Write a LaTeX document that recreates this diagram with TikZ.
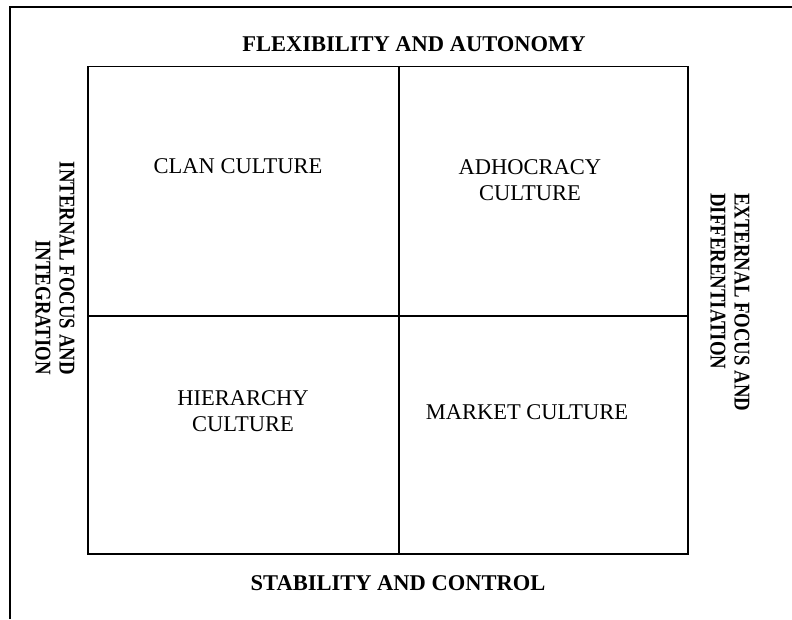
\documentclass[tikz,border=0pt]{standalone}
\usepackage{fontspec}
\setmainfont{Liberation Serif}
\newfontfamily\sidefont[FakeStretch=0.835]{Liberation Serif}

\tikzstyle{cell} = [align=center, inner sep=0pt, font=\fontsize{22.5}{26}\selectfont]
\tikzstyle{axis} = [inner sep=0pt, font=\fontsize{22.5}{24}\selectfont\bfseries]
\tikzstyle{side} = [inner sep=0pt, rotate=-90, font=\sidefont\fontsize{22.5}{24}\selectfont\bfseries]
\tikzstyle{frame} = [line width=1.3pt]

\begin{document}
\begin{tikzpicture}[x=1pt,y=-1pt]
      \useasboundingbox (0,0) rectangle (792,619);
      \coordinate (nw) at (88,66.5);
      \coordinate (se) at (688,554);
      \coordinate (n) at (399,66.5);
      \coordinate (s) at (399,554);
      \coordinate (w) at (88,316);
      \coordinate (e) at (688,316);
      \coordinate (pagebl) at (10,619);
      \coordinate (pagetl) at (10,7);
      \coordinate (pagetr) at (792,7);
      \draw[frame] (pagebl) -- (pagetl) -- (pagetr);
      \draw[frame] (nw) rectangle (se);
      \draw[frame] (n) -- (s);
      \draw[frame] (w) -- (e);
      \node[axis] (flex) at (414,44) {FLEXIBILITY AND AUTONOMY};
      \node[axis] (stab) at (398,583) {STABILITY AND CONTROL};
      \node[side, align=right, anchor=east] (internal) at (55,375) {INTERNAL FOCUS AND\\INTEGRATION};
      \node[side, align=left, anchor=west] (external) at (730,193) {EXTERNAL FOCUS AND\\DIFFERENTIATION};
      \node[cell] (clan) at (238,166) {CLAN CULTURE};
      \node[cell] (adhoc) at (530,180) {ADHOCRACY\\CULTURE};
      \node[cell] (hier) at (243,411) {HIERARCHY\\CULTURE};
      \node[cell] (market) at (527,412) {MARKET CULTURE};
    \end{tikzpicture}
\end{document}
